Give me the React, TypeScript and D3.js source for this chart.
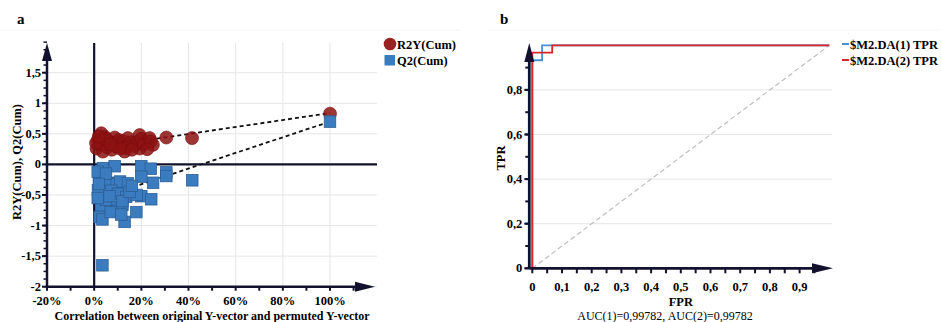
import React from 'react';
import * as d3 from 'd3';

// ---------- Panel a data (permutation test) ----------
const r2X = [1.0, 1.6, 3.0, 3.7, 2.5, 4.5, 6.0, 5.5, 7.5, 8.7, 9.4, 8.5, 10.5, 11.5, 12.9, 12.5, 14.3, 14.3, 15.5, 13.5, 17.0, 19.3, 19.3, 18.5, 20.0, 21.0, 23.5, 24.9, 24.0, 22.5, 0.8, 5.0, 11.0, 16.0, 2.0, 7.0, 30.6, 41.5, 100];
const r2Y = [0.26, 0.40, 0.51, 0.21, 0.33, 0.45, 0.38, 0.28, 0.24, 0.44, 0.29, 0.36, 0.40, 0.33, 0.21, 0.38, 0.43, 0.32, 0.36, 0.27, 0.30, 0.48, 0.26, 0.37, 0.42, 0.33, 0.43, 0.32, 0.38, 0.25, 0.35, 0.42, 0.26, 0.24, 0.46, 0.33, 0.44, 0.43, 0.83];
const q2X = [3.7, 8.7, 20, 24, 30.6, 30.6, 41.6, 25, 20, 2.3, 3.7, 6, 9.5, 11, 14.3, 1.6, 7.3, 10, 13.6, 20, 24.2, 18, 3, 8.7, 12, 5, 17.9, 2.3, 3.5, 12.9, 10, 7, 1.5, 5, 12, 15, 1.5, 2.0, 6.5, 16, 11.5, 3.5, 100];
const q2Y = [-0.06, -0.03, -0.03, -0.07, -0.13, -0.19, -0.26, -0.30, -0.2, -0.22, -0.26, -0.3, -0.32, -0.28, -0.31, -0.42, -0.43, -0.48, -0.53, -0.52, -0.57, -0.50, -0.67, -0.70, -0.66, -0.58, -0.78, -0.86, -0.9, -0.94, -0.76, -0.78, -0.12, -0.15, -0.6, -0.45, -0.55, -0.32, -0.52, -0.35, -0.82, -1.65, 0.70];
const r2LineX = [0, 100];
const r2LineY = [0.27, 0.84];
const q2LineX = [16.4, 100];
const q2LineY = [-0.37, 0.70];
const xTicksA = [-20, 0, 20, 40, 60, 80, 100];
const yTicksA = [-2, -1.5, -1, -0.5, 0, 0.5, 1, 1.5];

// ---------- Panel b data (ROC) ----------
const fpr1 = [0, 0, 0.033, 0.033, 1];
const tpr1 = [0, 0.933, 0.933, 1, 1];
const fpr2 = [0, 0, 0.067, 0.067, 1];
const tpr2 = [0, 0.967, 0.967, 1, 1];
const xTicksB = [0, 0.1, 0.2, 0.3, 0.4, 0.5, 0.6, 0.7, 0.8, 0.9];
const yTicksB = [0, 0.2, 0.4, 0.6, 0.8];

const AX = '#12122e';
const FONT = '"Liberation Serif", "Times New Roman", serif';
const comma = (v: number) => String(v).replace('.', ',');

export default function App() {
  // panel a scales
  const xa = d3.scaleLinear().domain([-20, 100]).range([47, 330]);
  const ya = d3.scaleLinear().domain([-2, 1.5]).range([286.7, 72.7]);
  const aLeft = xa(-20), aBottom = ya(-2), aRight = 377, aTop = 43;
  const minorYA = d3.range(-2, 2.01, 0.125);
  const minorXA = d3.range(-20, 111, 10);

  // panel b scales
  const xb = d3.scaleLinear().domain([0, 1]).range([532.3, 829.3]);
  const yb = d3.scaleLinear().domain([0, 1]).range([268.3, 45.3]);
  const bAxisX = xb(0) - 3;
  const bBottom = yb(0);
  const minorYB = d3.range(0, 0.95, 0.1);
  const minorXB = d3.range(0, 0.96, 0.05);

  const lineA = d3.line<[number, number]>().x(d => xa(d[0])).y(d => ya(d[1]));
  const lineB = d3.line<[number, number]>().x(d => xb(d[0])).y(d => yb(d[1]));

  const sq = 11.5;

  return (
    <svg width={941} height={322} style={{ position: 'absolute', left: 0, top: 0, background: '#fff' }} fontFamily={FONT}>
      <rect width={941} height={322} fill="#fff" />
      {/* faint header separators */}
      <line x1={0} x2={460} y1={30} y2={30} stroke="#f2f2f2" />
      <line x1={488} x2={941} y1={30} y2={30} stroke="#f2f2f2" />

      {/* ===== Panel a ===== */}
      <text x={17} y={24} fontSize={15} fontWeight="bold">a</text>
      {xTicksA.map(t => (
        <line key={'gx' + t} x1={xa(t)} x2={xa(t)} y1={aTop} y2={aBottom} stroke="#e6e6e6" />
      ))}
      {yTicksA.map(t => (
        <line key={'gy' + t} x1={aLeft} x2={aRight} y1={ya(t)} y2={ya(t)} stroke="#e6e6e6" />
      ))}
      <line x1={xa(0)} x2={xa(0)} y1={aTop} y2={aBottom} stroke={AX} strokeWidth={2.2} />
      <line x1={aLeft} x2={aRight} y1={ya(0)} y2={ya(0)} stroke={AX} strokeWidth={2.2} />
      <line x1={aLeft} x2={aLeft} y1={aTop + 10} y2={aBottom} stroke={AX} strokeWidth={2.5} />
      <line x1={aLeft} x2={365} y1={aBottom} y2={aBottom} stroke={AX} strokeWidth={2.5} />
      <path d={`M${aLeft},${aTop} L${aLeft - 5},${aTop + 18} L${aLeft + 5},${aTop + 18} Z`} fill={AX} />
      <path d={`M375,${aBottom} L355,${aBottom - 5} L355,${aBottom + 5} Z`} fill={AX} />
      {minorYA.map(t => (
        <line key={'my' + t} x1={aLeft - 3.5} x2={aLeft} y1={ya(t)} y2={ya(t)} stroke={AX} strokeWidth={1.5} />
      ))}
      {yTicksA.map(t => (
        <line key={'ty' + t} x1={aLeft - 5} x2={aLeft} y1={ya(t)} y2={ya(t)} stroke={AX} strokeWidth={2} />
      ))}
      {minorXA.map(t => (
        <line key={'mx' + t} x1={xa(t)} x2={xa(t)} y1={aBottom} y2={aBottom + 4} stroke={AX} strokeWidth={2} />
      ))}
      {yTicksA.map(t => (
        <text key={'ly' + t} x={aLeft - 6} y={ya(t) + 4} fontSize={12.5} fontWeight="bold" textAnchor="end">{comma(t)}</text>
      ))}
      {xTicksA.map(t => (
        <text key={'lx' + t} x={xa(t)} y={305} fontSize={12.5} fontWeight="bold" textAnchor="middle">{t + '%'}</text>
      ))}
      <text x={212} y={320} fontSize={12} fontWeight="bold" textAnchor="middle">Correlation between original Y-vector and permuted Y-vector</text>
      <text transform="translate(21,162) rotate(-90)" fontSize={12.5} fontWeight="bold" textAnchor="middle">R2Y(Cum), Q2(Cum)</text>

      <path d={lineA(r2LineX.map((x, i) => [x, r2LineY[i]]) as [number, number][]) || ''} fill="none" stroke="#111" strokeWidth={1.8} strokeDasharray="4,3" />
      <path d={lineA(q2LineX.map((x, i) => [x, q2LineY[i]]) as [number, number][]) || ''} fill="none" stroke="#111" strokeWidth={1.8} strokeDasharray="4,3" />

      {r2X.map((x, i) => (
        <circle key={'c' + i} cx={xa(x)} cy={ya(r2Y[i])} r={6.5} fill="#8c1212" fillOpacity={0.85} stroke="#7a0c0c" strokeWidth={0.6} />
      ))}
      {q2X.map((x, i) => (
        <rect key={'s' + i} x={xa(x) - sq / 2} y={ya(q2Y[i]) - sq / 2} width={sq} height={sq} fill="#3b7bbf" stroke="#2b5f96" strokeWidth={0.8} />
      ))}

      {/* legend a */}
      <circle cx={390} cy={44} r={6.3} fill="#9a2222" />
      <text x={397} y={48.5} fontSize={12.5} fontWeight="bold">R2Y(Cum)</text>
      <rect x={384.5} y={55} width={10.5} height={10.5} fill="#3b7bbf" />
      <text x={397} y={64.5} fontSize={12.5} fontWeight="bold">Q2(Cum)</text>

      {/* ===== Panel b ===== */}
      <text x={500} y={24} fontSize={15} fontWeight="bold">b</text>
      {yTicksB.filter(t => t > 0).map(t => (
        <line key={'gby' + t} x1={bAxisX} x2={832} y1={yb(t)} y2={yb(t)} stroke="#e6e6e6" />
      ))}
      <line x1={xb(0)} y1={yb(0)} x2={xb(1)} y2={yb(1)} stroke="#bdbdbd" strokeWidth={1.2} strokeDasharray="5,3" />
      <path d={lineB(fpr1.map((x, i) => [x, tpr1[i]]) as [number, number][]) || ''} fill="none" stroke="#4a8fd2" strokeWidth={1.8} />
      <path d={lineB(fpr2.map((x, i) => [x, tpr2[i]]) as [number, number][]) || ''} fill="none" stroke="#d8262b" strokeWidth={1.8} />
      <line x1={bAxisX} x2={bAxisX} y1={60} y2={bBottom} stroke={AX} strokeWidth={2.8} />
      <line x1={bAxisX} x2={820} y1={bBottom} y2={bBottom} stroke={AX} strokeWidth={2.8} />
      <path d={`M${bAxisX},43 L${bAxisX - 5},62 L${bAxisX + 5},62 Z`} fill={AX} />
      <path d={`M833,${bBottom} L812,${bBottom - 5} L812,${bBottom + 5} Z`} fill={AX} />
      {minorYB.map(t => (
        <line key={'mby' + t} x1={bAxisX - 4} x2={bAxisX} y1={yb(t)} y2={yb(t)} stroke={AX} strokeWidth={2} />
      ))}
      {yTicksB.map(t => (
        <line key={'tby' + t} x1={bAxisX - 5} x2={bAxisX} y1={yb(t)} y2={yb(t)} stroke={AX} strokeWidth={2} />
      ))}
      {minorXB.map(t => (
        <line key={'mbx' + t} x1={xb(t)} x2={xb(t)} y1={bBottom} y2={bBottom + 5} stroke={AX} strokeWidth={2} />
      ))}
      {yTicksB.map(t => (
        <text key={'lby' + t} x={bAxisX - 7} y={yb(t) + 4} fontSize={12.5} fontWeight="bold" textAnchor="end">{comma(t)}</text>
      ))}
      {xTicksB.map(t => (
        <text key={'lbx' + t} x={xb(t)} y={291} fontSize={12.5} fontWeight="bold" textAnchor="middle">{comma(t)}</text>
      ))}
      <text x={xb(0.5)} y={306} fontSize={12.5} fontWeight="bold" textAnchor="middle">FPR</text>
      <text x={665} y={320} fontSize={12} textAnchor="middle">AUC(1)=0,99782, AUC(2)=0,99782</text>
      <text transform="translate(505,158) rotate(-90)" fontSize={12.5} fontWeight="bold" textAnchor="middle">TPR</text>

      {/* legend b */}
      <line x1={842} x2={849} y1={44} y2={44} stroke="#4a8fd2" strokeWidth={2} />
      <text x={850} y={48.5} fontSize={12.5} fontWeight="bold">$M2.DA(1) TPR</text>
      <line x1={842} x2={849} y1={60} y2={60} stroke="#d8262b" strokeWidth={2} />
      <text x={850} y={64.5} fontSize={12.5} fontWeight="bold">$M2.DA(2) TPR</text>
    </svg>
  );
}
